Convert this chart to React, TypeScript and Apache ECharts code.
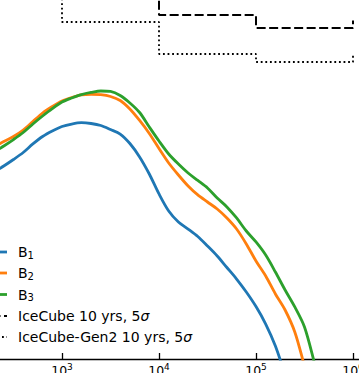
import React, { useEffect, useRef } from 'react';
import * as echarts from 'echarts';

// Neutrino energy grid (GeV)
const energyGeV = [
  200, 251, 316, 398, 501, 631, 794, 1000, 1259, 1585, 1995, 2512, 3162, 3981, 5012, 6310, 7943,
  10000, 12589, 15849, 19953, 25119, 31623, 39811, 50119, 63096, 79433, 100000, 125893, 158489,
  199526, 251189, 316228, 398107, 501187,
];

// E^2 flux for the three benchmarks
const fluxB1 = [
  5.5e-9, 7.24e-9, 9.77e-9, 1.35e-8, 2.0e-8, 2.82e-8, 3.63e-8, 4.47e-8, 5.01e-8, 5.32e-8,
  5.13e-8, 4.68e-8, 3.89e-8, 3.16e-8, 2.04e-8, 1.1e-8, 5.01e-9, 2.0e-9, 9.12e-10, 5.5e-10,
  3.98e-10, 2.82e-10, 1.82e-10, 1.15e-10, 6.76e-11, 3.98e-11, 2.19e-11, 1.12e-11, 5.01e-12, 1.82e-12,
  4.79e-13,
];
const fluxB2 = [
  1.74e-8, 2.24e-8, 2.82e-8, 3.8e-8, 5.62e-8, 8.32e-8, 1.12e-7, 1.45e-7, 1.7e-7, 1.91e-7,
  1.97e-7, 1.93e-7, 1.78e-7, 1.48e-7, 1.0e-7, 5.89e-8, 3.24e-8, 1.62e-8, 8.32e-9, 4.79e-9,
  2.88e-9, 1.91e-9, 1.38e-9, 1.0e-9, 6.61e-10, 3.98e-10, 2.0e-10, 9.12e-11, 4.57e-11, 2.0e-11,
  9.55e-12, 3.47e-12, 7.24e-13, 1.5e-13,
];
const fluxB3 = [
  1.38e-8, 1.82e-8, 2.45e-8, 3.39e-8, 5.01e-8, 7.24e-8, 1.02e-7, 1.38e-7, 1.66e-7, 1.94e-7,
  2.14e-7, 2.29e-7, 2.24e-7, 1.86e-7, 1.32e-7, 8.51e-8, 4.37e-8, 2.29e-8, 1.26e-8, 7.94e-9,
  5.25e-9, 3.72e-9, 2.63e-9, 1.66e-9, 1.1e-9, 6.61e-10, 3.63e-10, 2.19e-10, 1.2e-10, 5.5e-11,
  2.4e-11, 1.1e-11, 4.37e-12, 8.71e-13, 1.5e-13,
];

// 5 sigma discovery potentials (per-decade bins, step "post")
const icecubeEdges = [1e3, 1e4, 1e5, 1e6];
const icecubeLimit = [3e-5, 7.59e-6, 4.17e-6, 5.89e-6];
const gen2Edges = [1e2, 1e3, 1e4, 1e5, 1e6];
const gen2Limit = [3e-5, 5.5e-6, 1.26e-6, 8.71e-7, 1.32e-6];

const seriesNames = ['B1', 'B2', 'B3', 'IceCube 10 yrs, 5σ', 'IceCube-Gen2 10 yrs, 5σ'];
const colors = ['#1f77b4', '#ff7f0e', '#2ca02c', '#000000', '#000000'];

const FONT = 'DejaVu Sans';
// the visible window is a crop of a larger figure
const OX = 35;
const OY = 41;
const VIEW_W = 359;
const VIEW_H = 373;

function zip(xs: number[], ys: number[]) {
  return ys.map((y, i) => [xs[i], y]);
}
function stepPost(edges: number[], vals: number[]) {
  const pts: number[][] = [];
  for (let i = 0; i < vals.length; i++) {
    pts.push([edges[i], vals[i]]);
    if (i < vals.length - 1) pts.push([edges[i + 1], vals[i]]);
  }
  return pts;
}
function richLabel(name: string) {
  const m = name.match(/^B(\d)$/);
  if (m) return `{m|B}{sub|${m[1]}}`;
  const parts = name.split('σ');
  return `{m|${parts[0]}}{it|σ}`;
}

const DASHED = [9, 3.5];
const DOTTED = [1.8, 2.8];

export default function App() {
  const ref = useRef<HTMLDivElement>(null);
  useEffect(() => {
    if (!ref.current) return;
    const chart = echarts.init(ref.current, undefined, { renderer: 'svg' });
    const lineDefs = [
      { w: 2.8, dash: null as number[] | null },
      { w: 2.8, dash: null },
      { w: 2.8, dash: null },
      { w: 2, dash: DASHED },
      { w: 1.8, dash: DOTTED },
    ];
    const legendY = [252, 273, 294.5, 316, 337];
    const graphic: any[] = [];
    seriesNames.forEach((n, i) => {
      graphic.push({
        type: 'line',
        shape: { x1: OX - 21, y1: OY + legendY[i], x2: OX + 7, y2: OY + legendY[i] },
        style: {
          stroke: colors[i],
          lineWidth: lineDefs[i].w,
          lineDash: lineDefs[i].dash || undefined,
        },
        z: 100,
      });
      graphic.push({
        type: 'text',
        x: OX + 18,
        y: OY + legendY[i],
        z: 100,
        style: {
          text: richLabel(n),
          fill: '#000',
          fontFamily: FONT,
          fontSize: 14,
          verticalAlign: 'middle',
          rich: {
            m: { fontFamily: FONT, fontSize: 14, lineHeight: 17, fill: '#000' },
            sub: { fontFamily: FONT, fontSize: 10, lineHeight: 12, padding: [6, 0, 0, 0], fill: '#000' },
            it: { fontFamily: FONT, fontSize: 14, lineHeight: 17, fontStyle: 'italic', fill: '#000' },
          },
        },
      });
    });

    const curve = (name: string, data: number[], color: string) => ({
      name,
      type: 'line',
      data: zip(energyGeV, data),
      showSymbol: false,
      symbol: 'none',
      smooth: 0.3,
      lineStyle: { color, width: 2.8 },
      clip: true,
    });

    chart.setOption({
      animation: false,
      grid: { left: 0, right: 0, top: 0, bottom: 14, containLabel: false, outerBoundsMode: 'none' },
      xAxis: {
        type: 'log',
        logBase: 10,
        min: 100,
        max: 1e7,
        splitLine: { show: false },
        axisLine: { lineStyle: { color: '#000', width: 1.3 } },
        axisTick: { inside: true, length: 6, lineStyle: { color: '#000', width: 1.3 } },
        axisLabel: {
          margin: 4,
          formatter: (v: number) => `{b|10}{s|${Math.round(Math.log10(v))}}`,
          rich: {
            b: { fontFamily: FONT, fontSize: 12.5, lineHeight: 14, color: '#000' },
            s: { fontFamily: FONT, fontSize: 9, lineHeight: 7, padding: [0, 0, 7, 0], color: '#000' },
          },
        },
      },
      yAxis: { type: 'log', min: 1e-12, max: 1e-4, show: false, splitLine: { show: false } },
      series: [
        curve(seriesNames[0], fluxB1, colors[0]),
        curve(seriesNames[1], fluxB2, colors[1]),
        curve(seriesNames[2], fluxB3, colors[2]),
        {
          name: seriesNames[3],
          type: 'line',
          data: stepPost(icecubeEdges, icecubeLimit),
          showSymbol: false,
          symbol: 'none',
          lineStyle: { color: '#000', width: 2, type: DASHED },
        },
        {
          name: seriesNames[4],
          type: 'line',
          data: stepPost(gen2Edges, gen2Limit),
          showSymbol: false,
          symbol: 'none',
          lineStyle: { color: '#000', width: 1.8, type: DOTTED },
        },
      ],
      graphic,
    });
    return () => chart.dispose();
  }, []);
  return (
    <div
      style={{
        position: 'absolute',
        left: 0,
        top: 0,
        width: VIEW_W,
        height: VIEW_H,
        overflow: 'hidden',
        background: '#fff',
      }}
    >
      <div
        ref={ref}
        style={{ position: 'absolute', left: -OX, top: -OY, width: 485, height: VIEW_H + OY }}
      />
    </div>
  );
}
